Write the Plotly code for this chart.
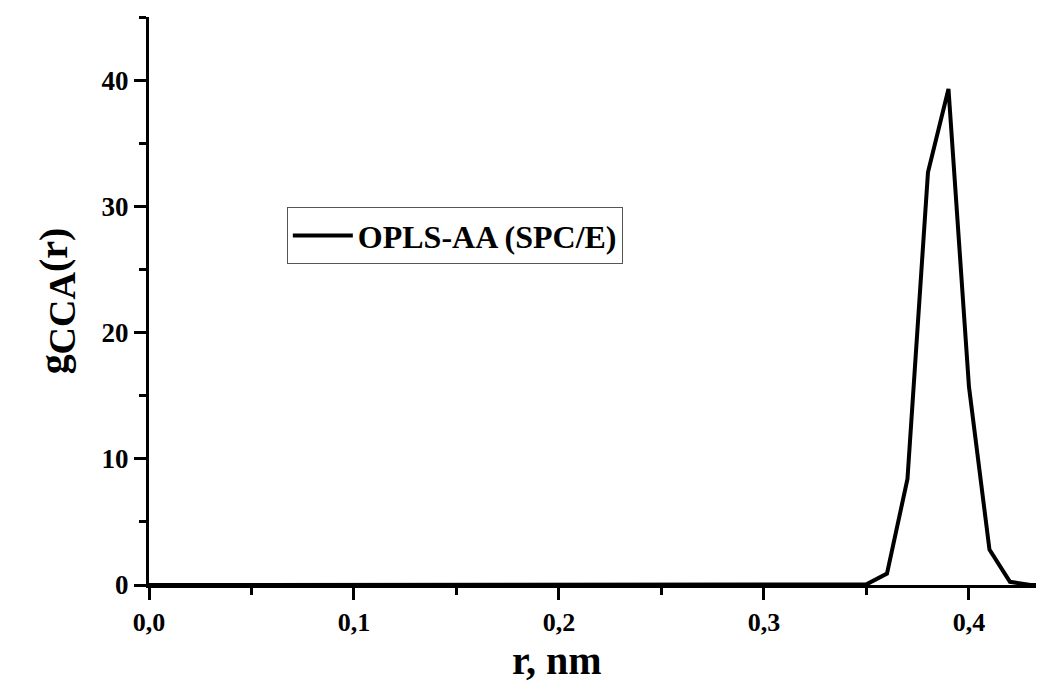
import plotly.graph_objects as go

r_nm = [round(0.01 * i, 2) for i in range(0, 45)]
g_values = [0.0] * 35 + [0.05, 0.9, 8.4, 32.7, 39.3, 15.7, 2.8, 0.25, 0.0, 0.0]
series_name = "OPLS-AA (SPC/E)"
x_ticks = [0.0, 0.1, 0.2, 0.3, 0.4]
x_tick_labels = ["0,0", "0,1", "0,2", "0,3", "0,4"]
y_ticks = [0, 10, 20, 30, 40]
x_title = "r, nm"
y_title = 'g<sub><span style="font-size:38px">CCA</span></sub>(r)'

FONT = "Liberation Serif"

fig = go.Figure()
fig.add_trace(go.Scatter(
    x=r_nm, y=g_values, mode="lines", name=series_name,
    line=dict(color="black", width=4),
    showlegend=True,
))

# page body has an 8px margin, so the figure is 8px smaller and margins shifted
fig.update_layout(
    width=1036, height=682,
    margin=dict(l=141, r=0, t=9, b=105),
    plot_bgcolor="white", paper_bgcolor="white",
    font=dict(family=FONT, color="black"),
    showlegend=True,
    legend=dict(
        x=0.154, y=0.665, xanchor="left", yanchor="top",
        bordercolor="#555555", borderwidth=1, bgcolor="white",
        font=dict(family=FONT, size=32, weight="bold", color="black"),
        itemwidth=60,
    ),
    annotations=[dict(
        text=x_title, xref="paper", yref="paper", x=0.456, y=-0.09,
        xanchor="center", yanchor="top", showarrow=False,
        font=dict(family=FONT, size=40, weight="bold", color="black"),
    )],
)

fig.update_xaxes(
    range=[0, 0.4366],
    tickvals=x_ticks, ticktext=x_tick_labels,
    showline=True, linecolor="black", linewidth=3,
    ticks="outside", ticklen=12, tickwidth=3, tickcolor="black",
    minor=dict(dtick=0.05, ticks="outside", ticklen=7, tickwidth=3, tickcolor="black", showgrid=False),
    showgrid=False, zeroline=False,
    tickfont=dict(family=FONT, size=26, weight="bold", color="black"),
)
fig.update_yaxes(
    range=[0, 45],
    tickvals=y_ticks,
    showline=True, linecolor="black", linewidth=3,
    ticks="outside", ticklen=12, tickwidth=3, tickcolor="black",
    minor=dict(dtick=5, ticks="outside", ticklen=7, tickwidth=3, tickcolor="black", showgrid=False),
    showgrid=False, zeroline=False,
    tickfont=dict(family=FONT, size=27, weight="bold", color="black"),
    title=dict(
        text=y_title,
        font=dict(family=FONT, size=40, weight="bold", color="black"), standoff=22,
    ),
)

fig.write_html("out.html")
